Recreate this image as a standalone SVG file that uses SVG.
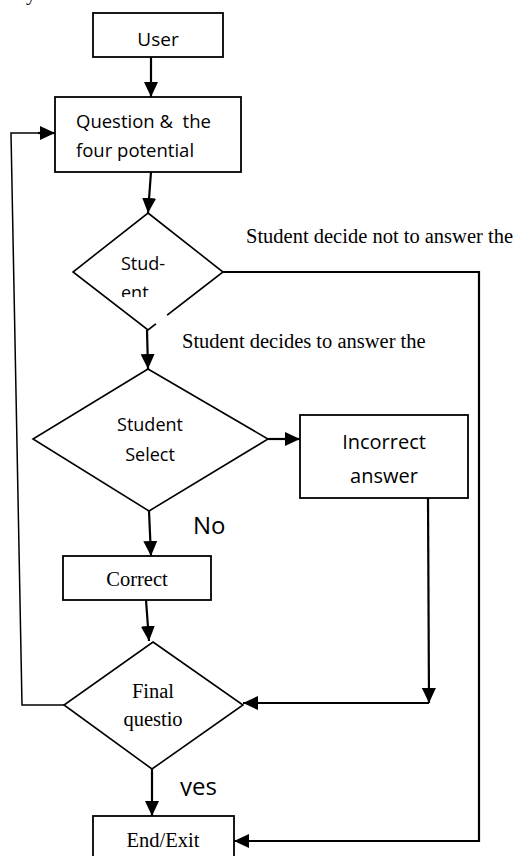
<svg xmlns="http://www.w3.org/2000/svg" width="525" height="856" viewBox="0 0 525 856">
  <style>
    .box { fill: #fff; stroke: #000; stroke-width: 1.8; }
    .dia { fill: #fff; stroke: #000; stroke-width: 1.6; stroke-linejoin: miter; }
    .wire { fill: none; stroke: #000; stroke-width: 2.2; }
    .thin { fill: none; stroke: #000; stroke-width: 1.5; }
    .sans { font-family: "Open Sans", "Noto Sans", sans-serif; fill: #000; }
    .serif { font-family: "Liberation Serif", "Times New Roman", serif; fill: #000; font-size: 20.5px; }
    .mid { text-anchor: middle; }
  </style>
  <defs>
    <marker id="arrow" viewBox="0 0 15 14" refX="15" refY="7" markerWidth="15" markerHeight="14" markerUnits="userSpaceOnUse" orient="auto">
      <path d="M0,0 L15,7 L0,14 z" fill="#000"/>
    </marker>
    <clipPath id="clipStudent">
      <rect x="100" y="245" width="80" height="52"/>
    </clipPath>
    <clipPath id="clipYes">
      <rect x="170" y="770" width="60" height="26"/>
    </clipPath>
  </defs>

  <rect width="525" height="856" fill="#fff"/>

  <!-- stray glyph tail at the top edge -->
  <text x="26" y="0" class="serif">y</text>

  <!-- connectors -->
  <g id="connectors">
    <path class="wire" d="M151,57 V97" marker-end="url(#arrow)"/>
    <path class="wire" d="M151,172 L148,213" marker-end="url(#arrow)"/>
    <path class="wire" d="M223,272 H479 V841 H234" marker-end="url(#arrow)"/>
    <path class="wire" d="M147,330 L148,369" marker-end="url(#arrow)"/>
    <path class="wire" d="M268,439 H300" marker-end="url(#arrow)"/>
    <path class="wire" d="M149,511 L151,556" marker-end="url(#arrow)"/>
    <path class="wire" d="M428,498 L429,703" marker-end="url(#arrow)"/>
    <path class="wire" d="M429,703 H243" marker-end="url(#arrow)"/>
    <path class="wire" d="M146,600 L149,641" marker-end="url(#arrow)"/>
    <path class="thin" d="M64,705 H22 L11,133 H40"/>
    <path class="wire" d="M38,133 H55" marker-end="url(#arrow)"/>
    <path class="wire" d="M152,769 V816" marker-end="url(#arrow)"/>
  </g>

  <!-- edge labels -->
  <g id="labels">
    <text x="246" y="243" class="serif">Student decide not to answer the</text>
    <text x="182" y="348" class="serif">Student decides to answer the</text>
    <text x="193" y="534" class="sans" font-size="24">No</text>
    <text x="180" y="795" class="sans" font-size="24" clip-path="url(#clipYes)">yes</text>
  </g>

  <g id="node-user">
    <rect class="box" x="93" y="13" width="130" height="44"/>
    <text x="158" y="46" class="sans mid" font-size="19">User</text>
  </g>

  <g id="node-question">
    <rect class="box" x="55" y="97" width="186" height="75"/>
    <text x="76" y="128" class="sans" font-size="18.5" style="white-space:pre">Question &amp;  the</text>
    <text x="76" y="157" class="sans" font-size="18.5">four potential</text>
  </g>

  <g id="node-student-decide">
    <polygon class="dia" points="148,213 223,272 148,330 73,272"/>
    <line x1="156" y1="324" x2="167" y2="315" stroke="#fff" stroke-width="4"/>
    <g clip-path="url(#clipStudent)">
      <text x="121" y="270" class="sans" font-size="18">Stud-</text>
      <text x="121" y="299" class="sans" font-size="18">ent</text>
    </g>
  </g>

  <g id="node-student-select">
    <polygon class="dia" points="148,369 268,439 149,511 33,439"/>
    <text x="150" y="431" class="sans mid" font-size="18">Student</text>
    <text x="150" y="461" class="sans mid" font-size="18">Select</text>
  </g>

  <g id="node-incorrect">
    <rect class="box" x="300" y="415" width="168" height="83"/>
    <text x="384" y="449" class="sans mid" font-size="20">Incorrect</text>
    <text x="384" y="483" class="sans mid" font-size="20">answer</text>
  </g>

  <g id="node-correct">
    <rect class="box" x="63" y="556" width="148" height="44"/>
    <text x="137" y="586" class="serif mid">Correct</text>
  </g>

  <g id="node-final">
    <polygon class="dia" points="153,642 243,705 152,769 64,705"/>
    <text x="153" y="698" class="serif mid">Final</text>
    <text x="153" y="726" class="serif mid">questio</text>
  </g>

  <g id="node-end">
    <rect class="box" x="93" y="816" width="141" height="60"/>
    <text x="163" y="847" class="serif mid">End/Exit</text>
  </g>
</svg>
